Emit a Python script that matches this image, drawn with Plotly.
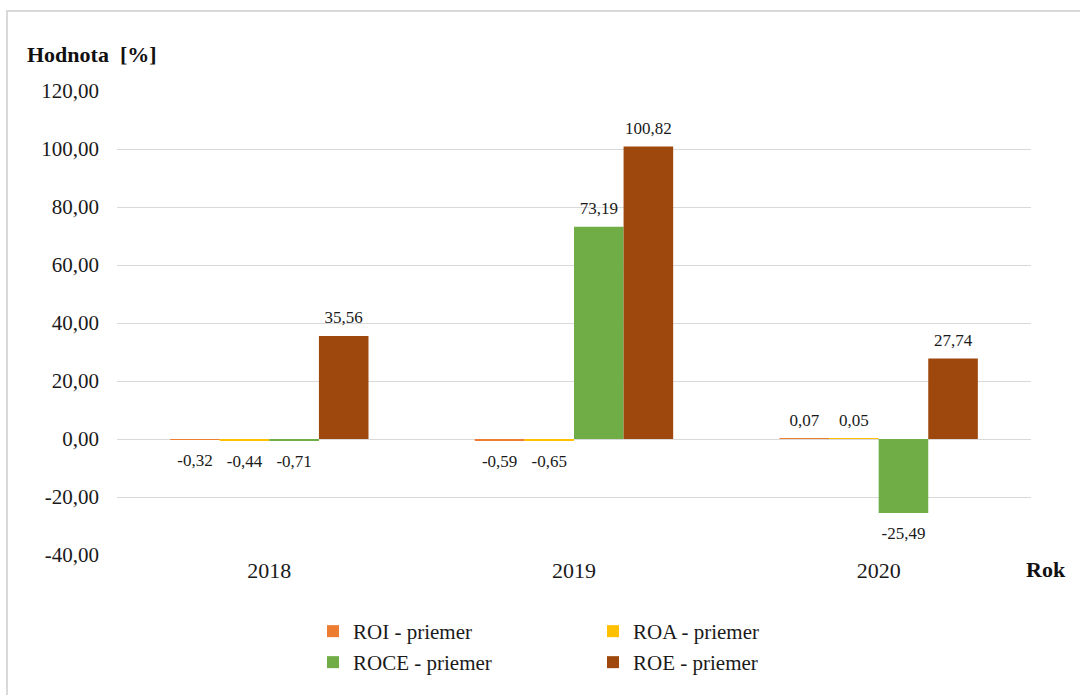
import plotly.graph_objects as go

years = ["2018", "2019", "2020"]
series_names = ["ROI - priemer", "ROA - priemer", "ROCE - priemer", "ROE - priemer"]
roi = [-0.32, -0.59, 0.07]
roa = [-0.44, -0.65, 0.05]
roce = [-0.71, 73.19, -25.49]
roe = [35.56, 100.82, 27.74]
colors = ["#ED7D31", "#FFC000", "#70AD47", "#9E480E"]
y_ticks = [-40, -20, 0, 20, 40, 60, 80, 100, 120]

FONT = "Liberation Serif, Times New Roman, serif"
W, H = 1080, 695
ML, MR, MT, MB = 117, 49, 91, 140
PW, PH = W - ML - MR, H - MT - MB
GAP = 0.349


def px_x(px):
    return (px - ML) / PW


def px_y(py):
    return (H - MB - py) / PH


def fmt(v):
    return f"{v:.2f}".replace(".", ",")


fig = go.Figure()
all_series = [roi, roa, roce, roe]
for i, (name, vals) in enumerate(zip(series_names, all_series)):
    fig.add_trace(go.Bar(
        x=years, y=vals, name=name,
        marker=dict(color=colors[i], line=dict(width=0)),
        hoverinfo="skip",
        legend="legend" if i < 2 else "legend2",
    ))

# data labels as grouped text points aligned with the bars
for i, (name, vals) in enumerate(zip(series_names, all_series)):
    fig.add_trace(go.Scatter(
        x=years, y=vals, mode="markers+text",
        text=[fmt(v) for v in vals],
        textposition=["top center" if v >= 0 else "bottom center" for v in vals],
        textfont=dict(family=FONT, size=17, color="#1a1a1a"),
        marker=dict(size=[12 if v >= 0 else 20 for v in vals], opacity=0, color=colors[i]),
        showlegend=False, hoverinfo="skip", cliponaxis=False,
    ))

fig.update_layout(
    width=W, height=H,
    margin=dict(l=ML, r=MR, t=MT, b=MB, autoexpand=False),
    paper_bgcolor="white", plot_bgcolor="white",
    barmode="group", bargap=GAP, bargroupgap=0,
    scattermode="group", scattergap=GAP,
    font=dict(family=FONT, size=21, color="#1a1a1a"),
    xaxis=dict(showgrid=False, showline=False, ticks="", zeroline=False,
               ticklabelstandoff=0,
               tickfont=dict(family=FONT, size=22, color="#1a1a1a")),
    yaxis=dict(range=[-40, 120], tickvals=y_ticks, ticktext=[fmt(t) for t in y_ticks],
               showgrid=True, gridcolor="#D9D9D9", gridwidth=1,
               zeroline=True, zerolinecolor="#D9D9D9", zerolinewidth=1,
               showline=False, ticks="", ticklabelstandoff=17,
               tickfont=dict(family=FONT, size=21, color="#1a1a1a")),
    legend=dict(orientation="h", x=px_x(313), y=px_y(611), xanchor="left", yanchor="top",
                entrywidth=235, entrywidthmode="pixels", traceorder="normal",
                font=dict(family=FONT, size=21, color="#1a1a1a"),
                bgcolor="rgba(0,0,0,0)"),
    legend2=dict(orientation="h", x=px_x(313), y=px_y(642), xanchor="left", yanchor="top",
                 entrywidth=235, entrywidthmode="pixels", traceorder="normal",
                 font=dict(family=FONT, size=21, color="#1a1a1a"),
                 bgcolor="rgba(0,0,0,0)"),
    annotations=[
        dict(text="<b>Hodnota  [%]</b>", xref="paper", yref="paper",
             x=px_x(25), y=px_y(54), xanchor="left", yanchor="middle",
             showarrow=False, font=dict(family=FONT, size=22, color="#111")),
        dict(text="<b>Rok</b>", xref="paper", yref="paper",
             x=px_x(1024), y=px_y(569), xanchor="left", yanchor="middle",
             showarrow=False, font=dict(family=FONT, size=22, color="#111")),
    ],
    shapes=[
        dict(type="rect", xref="paper", yref="paper",
             x0=px_x(7), x1=px_x(1090), y0=px_y(705), y1=px_y(11),
             line=dict(color="#D9D9D9", width=2), fillcolor="rgba(0,0,0,0)", layer="below"),
    ],
)

fig.write_html("out.html")
